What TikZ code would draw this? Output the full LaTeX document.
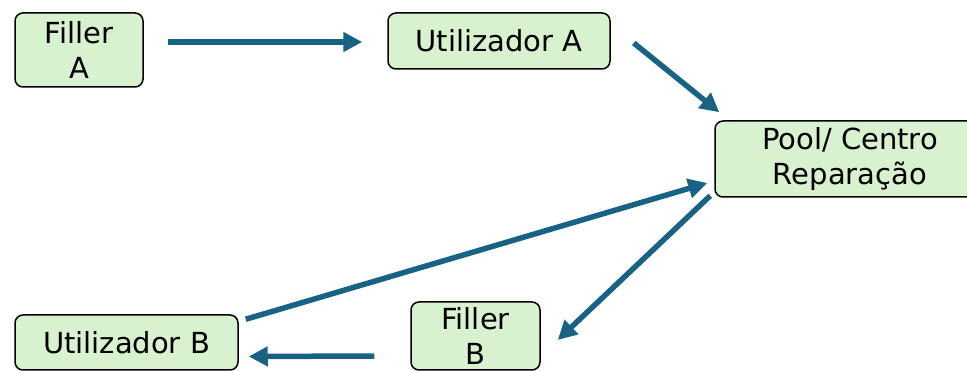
\documentclass[tikz,border=0pt]{standalone}
\usepackage{fontspec}
\setmainfont{DejaVu Sans}
\usetikzlibrary{arrows.meta}
\definecolor{boxfill}{RGB}{216,242,208}
\definecolor{flowblue}{RGB}{24,98,132}
\begin{document}
\begin{tikzpicture}[x=1pt,y=-1pt,
    box/.style={draw=black, line width=1.5pt, fill=boxfill, rounded corners=8pt,
        inner sep=0pt, align=center, font=\fontsize{29}{35}\selectfont},
    flow/.style={draw=flowblue, line width=5.5pt, -{Triangle[length=19pt,width=19pt]}}]
    \useasboundingbox (0,0) rectangle (967,371);
    \clip (0,0) rectangle (967,371);

    \node[box, minimum width=128pt, minimum height=74pt] (fillera) at (79,50) {Filler\\A};
    \node[box, minimum width=222pt, minimum height=56pt] (usera) at (499,41) {Utilizador A};
    \node[box, minimum width=270pt, minimum height=76pt] (pool) at (850,159) {Pool/ Centro\\Reparação};
    \node[box, minimum width=223pt, minimum height=55pt] (userb) at (126.5,342.5) {Utilizador B};
    \node[box, minimum width=129pt, minimum height=68pt] (fillerb) at (475.5,336) {Filler\\B};

    % circuit of the filler
    \draw[flow] ([shift={(24,-8)}]fillera.east) -- ([shift={(-25,1)}]usera.west);
    \draw[flow] ([shift={(23,2)}]usera.east) -- ([shift={(5,-8)}]pool.north west);
    \draw[flow] ([shift={(-4,-2)}]pool.south west) -- ([shift={(17,4)}]fillerb.east);
    \draw[flow] ([shift={(-36,20)}]fillerb.west) -- ([shift={(10,14)}]userb.east);
    \draw[flow] ([shift={(7,5)}]userb.north east) -- ([shift={(-7,24)}]pool.west);
\end{tikzpicture}
\end{document}
